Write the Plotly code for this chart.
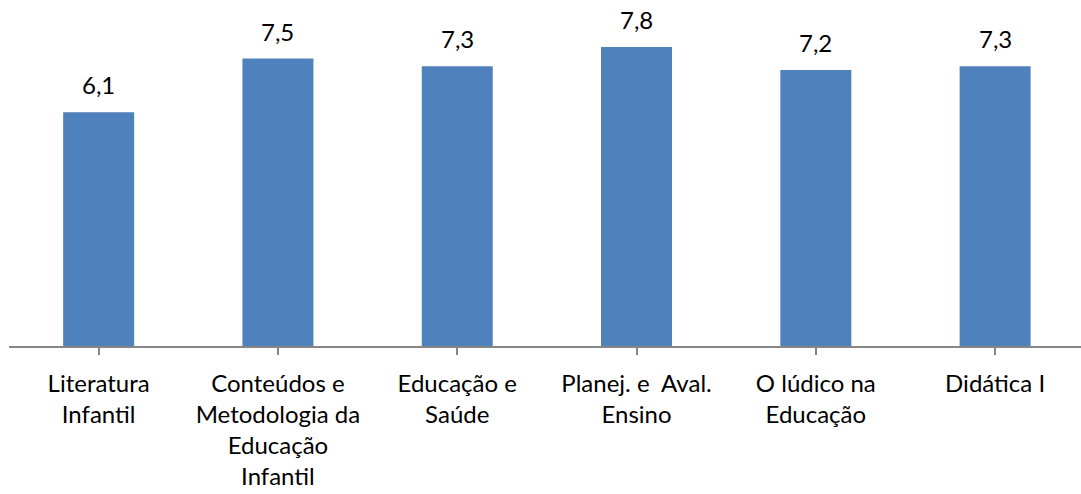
import plotly.graph_objects as go

categories = [
    "Literatura<br>Infantil",
    "Conteúdos e<br>Metodologia da<br>Educação<br>Infantil",
    "Educação e<br>Saúde",
    "Planej. e  Aval.<br>Ensino",
    "O lúdico na<br>Educação",
    "Didática I",
]
values = [6.1, 7.5, 7.3, 7.8, 7.2, 7.3]

FONT = "Lato, Carlito, Calibri, sans-serif"
FS = 24

fig = go.Figure()
fig.add_trace(go.Bar(
    x=list(range(len(categories))),
    y=values,
    marker=dict(color="#4F81BD", line=dict(width=0)),
    hoverinfo="skip",
))

for i, v in enumerate(values):
    fig.add_annotation(
        x=i, y=v, text=f"{v:.1f}".replace(".", ","),
        showarrow=False, yanchor="bottom", yshift=12, borderpad=0,
        font=dict(family=FONT, size=FS, color="#000000"),
    )

fig.update_layout(
    width=1081, height=494,
    margin=dict(l=9, r=0, t=8, b=148),
    paper_bgcolor="white", plot_bgcolor="white",
    bargap=0.604,
    showlegend=False,
    font=dict(family=FONT, size=FS, color="#000000"),
)
fig.update_xaxes(
    tickmode="array",
    tickvals=list(range(len(categories))),
    ticktext=categories,
    range=[-0.5, 5.479],
    showline=True, linecolor="#868686", linewidth=1.5,
    ticks="outside", tickson="boundaries", ticklen=7,
    tickcolor="#868686", tickwidth=1.5,
    showgrid=False, zeroline=False,
    tickfont=dict(family=FONT, size=FS, color="#000000"),
    ticklabelstandoff=8,
)
fig.update_yaxes(
    range=[0, 8.818],
    visible=False, showgrid=False, zeroline=False,
)

fig.write_html(
    "out.html",
    config={"displayModeBar": False},
    post_script="document.body.style.margin='0';",
)
